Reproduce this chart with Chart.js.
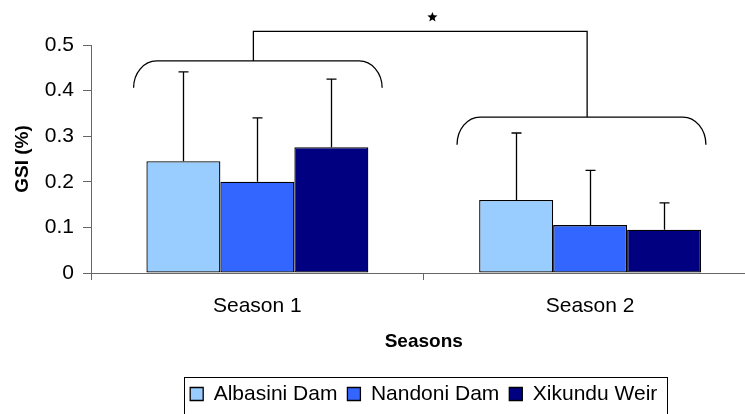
<!DOCTYPE html>
<html><head><meta charset="utf-8">
<script src="https://cdn.jsdelivr.net/npm/chart.js@4"></script>
<style>
html,body{margin:0;padding:0;overflow:hidden;background:#fff;width:745px;height:414px}
#wrap{width:760px;height:430px;position:relative}
</style></head>
<body><div id="wrap"><canvas id="c"></canvas></div>
<script>
// ---- data ----
const categories = ['Season 1', 'Season 2'];
const seriesNames = ['Albasini Dam', 'Nandoni Dam', 'Xikundu Weir'];
const albasini = [0.245, 0.160];
const nandoni = [0.200, 0.105];
const xikundu = [0.276, 0.095];
const albasiniErr = [0.196, 0.147];
const nandoniErr = [0.140, 0.120];
const xikunduErr = [0.149, 0.059];
const yTickLabels = ['0', '0.1', '0.2', '0.3', '0.4', '0.5'];
const yTitle = 'GSI (%)';
const xTitle = 'Seasons';
// significance annotation (x in category units, y in GSI units)
const groupBrackets = [
  { x0: -0.372, x1: 0.375, top: 0.465, end: 0.406, stem: -0.012 },
  { x0: 0.600, x1: 1.348, top: 0.342, end: 0.281, stem: 0.991 }
];
const linkTop = 0.530;
const starPos = { x: 0.526, y: 0.561 };

const colors = ['#99CCFF', '#3366FF', '#000080'];
const values = [albasini, nandoni, xikundu];
const errors = [albasiniErr, nandoniErr, xikunduErr];

const FONT = "'Liberation Sans', Arial, sans-serif";

const errorBars = {
  id: 'errorBars',
  afterDatasetsDraw(chart) {
    const ctx = chart.ctx, ys = chart.scales.y;
    ctx.save();
    ctx.strokeStyle = '#000';
    ctx.lineWidth = 1.3;
    chart.data.datasets.forEach((ds, i) => {
      const meta = chart.getDatasetMeta(i);
      meta.data.forEach((bar, j) => {
        const v = ds.data[j], e = errors[i][j];
        const yTop = ys.getPixelForValue(v + e);
        const x = Math.round(bar.x) + 0.5;
        ctx.beginPath();
        ctx.moveTo(x, bar.y);
        ctx.lineTo(x, yTop);
        ctx.moveTo(x - 5, yTop);
        ctx.lineTo(x + 5, yTop);
        ctx.stroke();
      });
    });
    ctx.restore();
  }
};

const significancePlugin = {
  id: 'significance',
  afterDraw(chart) {
    const ctx = chart.ctx, xs = chart.scales.x, ys = chart.scales.y;
    ctx.save();
    ctx.strokeStyle = '#000';
    ctx.lineWidth = 1.3;
    const k = 0.552;
    groupBrackets.forEach(b => {
      const l = xs.getPixelForValue(b.x0), r = xs.getPixelForValue(b.x1);
      const t = ys.getPixelForValue(b.top), e = ys.getPixelForValue(b.end);
      const rx = 23, h = e - t;
      ctx.beginPath();
      ctx.moveTo(l, e);
      ctx.bezierCurveTo(l, t + h * (1 - k), l + rx * (1 - k), t, l + rx, t);
      ctx.lineTo(r - rx, t);
      ctx.bezierCurveTo(r - rx * (1 - k), t, r, t + h * (1 - k), r, e);
      ctx.stroke();
    });
    const lt = ys.getPixelForValue(linkTop);
    const s0 = xs.getPixelForValue(groupBrackets[0].stem);
    const s1 = xs.getPixelForValue(groupBrackets[1].stem);
    ctx.beginPath();
    ctx.moveTo(s0, ys.getPixelForValue(groupBrackets[0].top));
    ctx.lineTo(s0, lt);
    ctx.lineTo(s1, lt);
    ctx.lineTo(s1, ys.getPixelForValue(groupBrackets[1].top));
    ctx.stroke();
    // star
    const cx = xs.getPixelForValue(starPos.x), cy = ys.getPixelForValue(starPos.y);
    const R = 5.3, r2 = 2.3;
    ctx.fillStyle = '#000';
    ctx.beginPath();
    for (let i = 0; i < 10; i++) {
      const a = -Math.PI / 2 + i * Math.PI / 5;
      const rr = i % 2 === 0 ? R : r2;
      const px = cx + rr * Math.cos(a), py = cy + rr * Math.sin(a);
      if (i === 0) ctx.moveTo(px, py); else ctx.lineTo(px, py);
    }
    ctx.closePath();
    ctx.fill();
    // legend frame
    const lg = chart.legend;
    if (lg && lg.legendHitBoxes && lg.legendHitBoxes.length) {
      const hb = lg.legendHitBoxes;
      const left = hb[0].left - 6;
      const last = hb[hb.length - 1];
      const right = last.left + last.width + 10;
      const top = hb[0].top - 7;
      ctx.lineWidth = 1;
      ctx.strokeStyle = '#000';
      ctx.strokeRect(Math.round(left) + 0.5, Math.round(top) + 0.5, Math.round(right - left), 60);
    }
    ctx.restore();
  }
};

new Chart(document.getElementById('c'), {
  type: 'bar',
  data: {
    labels: categories,
    datasets: seriesNames.map((n, i) => ({
      label: n,
      data: values[i],
      backgroundColor: colors[i],
      borderColor: '#000',
      borderWidth: 1.3,
      borderSkipped: false,
      categoryPercentage: 0.667,
      barPercentage: 1.0
    }))
  },
  options: {
    responsive: true,
    maintainAspectRatio: false,
    animation: false,
    devicePixelRatio: 1,
    layout: { padding: { left: 0, right: 3.5, top: 45, bottom: 15.5 } },
    plugins: {
      tooltip: { enabled: false },
      legend: {
        position: 'bottom',
        fullSize: false,
        labels: {
          boxWidth: 13, boxHeight: 13, padding: 10,
          color: '#000',
          font: { family: FONT, size: 21 }
        }
      }
    },
    scales: {
      x: {
        afterFit(s) { s.height = 100.5; },
        grid: { display: true, drawOnChartArea: false, offset: true, tickLength: 7, color: '#666' },
        border: { display: true, color: '#666', width: 1 },
        ticks: { color: '#000', padding: 14, font: { family: FONT, size: 21 } },
        title: { display: true, text: xTitle, color: '#000', padding: { top: 0, bottom: 20 }, font: { family: FONT, size: 19, weight: 'bold' } }
      },
      y: {
        min: 0, max: 0.5,
        afterFit(s) { s.width = 91; },
        grid: { display: true, drawOnChartArea: false, tickLength: 8, color: '#666' },
        border: { display: true, color: '#666', width: 1 },
        ticks: {
          stepSize: 0.1, color: '#000', padding: 9,
          font: { family: FONT, size: 21 },
          callback: (v, i) => yTickLabels[i]
        },
        title: { display: true, text: yTitle, color: '#000', padding: { top: 11.6, bottom: 0 }, font: { family: FONT, size: 19, weight: 'bold' } }
      }
    }
  },
  plugins: [errorBars, significancePlugin]
});
</script>
</body></html>
